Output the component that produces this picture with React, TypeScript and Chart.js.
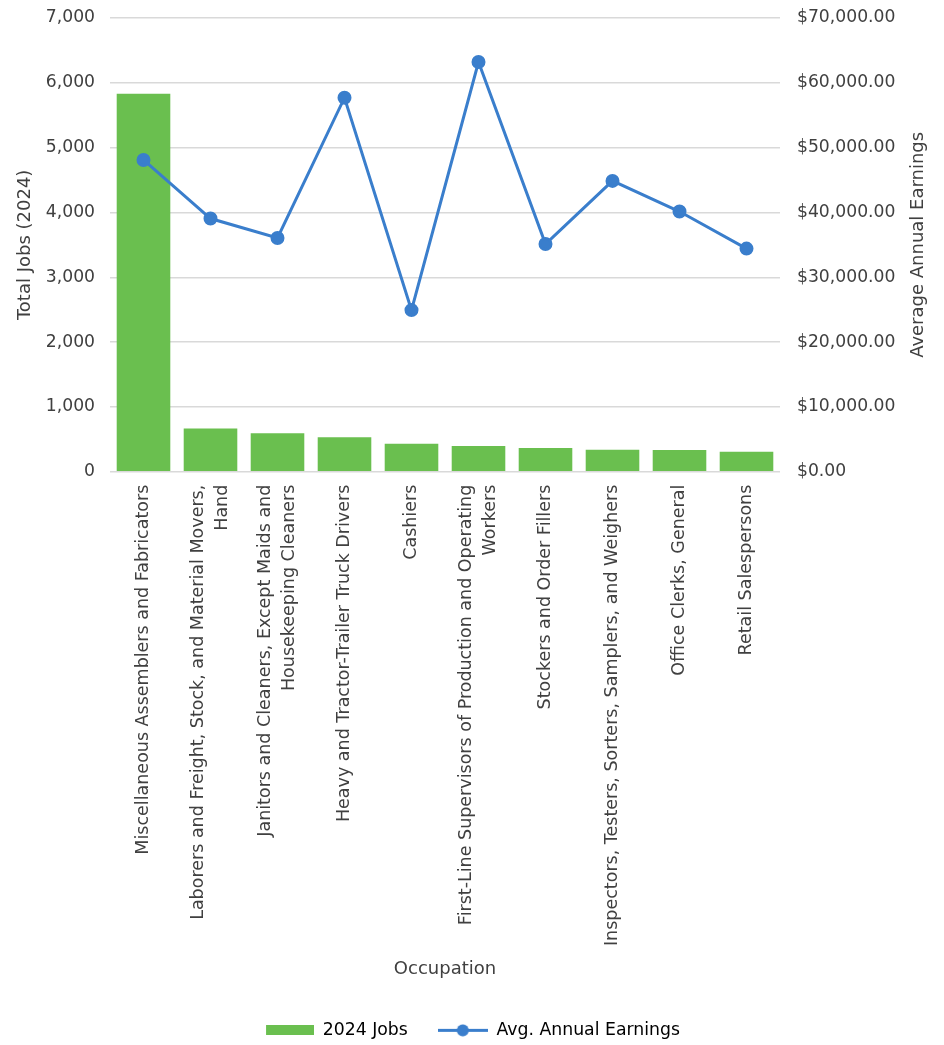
import React, { useEffect, useRef } from 'react';
import { Chart, registerables } from 'chart.js';

Chart.register(...registerables);

const categories: (string | string[])[] = [
  'Miscellaneous Assemblers and Fabricators',
  ['Laborers and Freight, Stock, and Material Movers,', 'Hand'],
  ['Janitors and Cleaners, Except Maids and', 'Housekeeping Cleaners'],
  'Heavy and Tractor-Trailer Truck Drivers',
  'Cashiers',
  ['First-Line Supervisors of Production and Operating', 'Workers'],
  'Stockers and Order Fillers',
  'Inspectors, Testers, Sorters, Samplers, and Weighers',
  'Office Clerks, General',
  'Retail Salespersons',
];

const jobs2024 = [5830, 665, 592, 530, 433, 397, 366, 340, 335, 309];
const avgAnnualEarnings = [48100, 39060, 36060, 57700, 24930, 63210, 35130, 44870, 40140, 34420];

const jobsAxis = { min: 0, max: 7000, step: 1000 };
const earningsAxis = { min: 0, max: 70000, step: 10000 };

const GREEN = '#6ABF4F';
const BLUE = '#3A7ECC';
const TEXT = '#404040';
const GRID = '#D9D9D9';
const FONT = '"DejaVu Sans", sans-serif';
const XTICK_SIZE = 17.5;
const YTICK_SIZE = 17.2;
const TITLE_SIZE = 18;
const LEGEND_SIZE = 17.3;

function makeBoxImg() {
  const c = document.createElement('canvas');
  c.width = 50;
  c.height = 10;
  const g = c.getContext('2d')!;
  g.fillStyle = GREEN;
  g.fillRect(2, 0, 48, 10);
  return c;
}

function makeLineImg() {
  const c = document.createElement('canvas');
  c.width = 50;
  c.height = 13;
  const g = c.getContext('2d')!;
  g.strokeStyle = BLUE;
  g.lineWidth = 3;
  g.beginPath();
  g.moveTo(0, 6.5);
  g.lineTo(50, 6.5);
  g.stroke();
  g.fillStyle = BLUE;
  g.beginPath();
  g.arc(25, 6.5, 6, 0, Math.PI * 2);
  g.fill();
  return c;
}

const centerMultilineLabels = {
  id: 'centerMultilineLabels',
  beforeDraw(chart: any) {
    const scale = chart.scales.x;
    const items = scale.getLabelItems(chart.chartArea);
    items.forEach((it: any) => {
      if (Array.isArray(it.label) && it.label.length > 1 && !it._centered) {
        it.options.translation[0] -= ((it.label.length - 1) * it.font.lineHeight) / 2;
        it._centered = true;
      }
    });
  },
};

const rightAxisTitle = {
  id: 'rightAxisTitle',
  afterDraw(chart: any) {
    const s = chart.scales.y1;
    const ctx = chart.ctx;
    ctx.save();
    ctx.translate(s.right - 26, (chart.chartArea.top + chart.chartArea.bottom) / 2);
    ctx.rotate(-Math.PI / 2);
    ctx.font = `${TITLE_SIZE}px ${FONT}`;
    ctx.fillStyle = TEXT;
    ctx.textAlign = 'center';
    ctx.textBaseline = 'middle';
    ctx.fillText('Average Annual Earnings', 0, 0);
    ctx.restore();
  },
};

export default function App() {
  const ref = useRef<HTMLCanvasElement>(null);

  useEffect(() => {
    const canvas = ref.current!;
    const boxImg = makeBoxImg();
    const lineImg = makeLineImg();
    const chart = new Chart(canvas, {
      type: 'bar',
      data: {
        labels: categories,
        datasets: [
          {
            type: 'bar',
            label: '2024 Jobs',
            data: jobs2024,
            yAxisID: 'y',
            backgroundColor: GREEN,
            categoryPercentage: 1,
            barPercentage: 0.8,
            order: 1,
          },
          {
            type: 'line',
            label: 'Avg. Annual Earnings',
            data: avgAnnualEarnings,
            yAxisID: 'y1',
            borderColor: BLUE,
            backgroundColor: BLUE,
            borderWidth: 3,
            pointRadius: 5.5,
            pointBackgroundColor: BLUE,
            pointBorderColor: BLUE,
            tension: 0,
            order: 0,
          },
        ],
      } as any,
      options: {
        responsive: false,
        animation: false,
        events: [],
        font: { family: FONT },
        layout: { padding: { top: 18, bottom: -4, left: 0, right: 0 } },
        plugins: {
          tooltip: { enabled: false },
          legend: {
            position: 'bottom',
            labels: {
              usePointStyle: true,
              pointStyleWidth: 50,
              padding: 30,
              color: '#262626',
              font: { family: FONT, size: LEGEND_SIZE },
              generateLabels: () =>
                [
                  { text: '2024 Jobs', pointStyle: boxImg, fillStyle: GREEN, strokeStyle: GREEN, lineWidth: 0, hidden: false, datasetIndex: 0 },
                  { text: 'Avg. Annual Earnings', pointStyle: lineImg, fillStyle: BLUE, strokeStyle: BLUE, lineWidth: 0, hidden: false, datasetIndex: 1 },
                ] as any,
            },
          },
        },
        scales: {
          x: {
            grid: { display: false, drawTicks: false },
            border: { display: false },
            ticks: {
              autoSkip: false,
              minRotation: 90,
              maxRotation: 90,
              padding: 13,
              color: TEXT,
              font: { family: FONT, size: XTICK_SIZE, lineHeight: 24 / XTICK_SIZE },
            },
            title: {
              display: true,
              text: 'Occupation',
              color: TEXT,
              font: { family: FONT, size: TITLE_SIZE },
              padding: { top: 0, bottom: 12 },
            },
            afterFit: (s: any) => {
              s.height = 520;
              s.paddingTop = 0;
              s.paddingBottom = 0;
            },
          },
          y: {
            position: 'left',
            min: jobsAxis.min,
            max: jobsAxis.max,
            ticks: {
              stepSize: jobsAxis.step,
              padding: 15,
              color: TEXT,
              font: { family: FONT, size: YTICK_SIZE },
              callback: (v: any) => Number(v).toLocaleString('en-US'),
            },
            grid: { color: GRID, lineWidth: 1.5, drawTicks: false },
            border: { display: false },
            title: {
              display: true,
              text: 'Total Jobs (2024)',
              color: TEXT,
              font: { family: FONT, size: TITLE_SIZE },
              padding: { top: 15, bottom: 0 },
            },
            afterFit: (s: any) => {
              s.width = 110;
              s.paddingTop = 0;
            },
          },
          y1: {
            position: 'right',
            min: earningsAxis.min,
            max: earningsAxis.max,
            ticks: {
              stepSize: earningsAxis.step,
              padding: 17,
              color: TEXT,
              font: { family: FONT, size: YTICK_SIZE },
              callback: (v: any) =>
                '$' + Number(v).toLocaleString('en-US', { minimumFractionDigits: 2, maximumFractionDigits: 2 }),
            },
            grid: { display: false, drawTicks: false },
            border: { display: false },
            afterFit: (s: any) => {
              s.width = 164;
              s.paddingTop = 0;
            },
          },
        },
      } as any,
      plugins: [centerMultilineLabels, rightAxisTitle],
    });
    return () => chart.destroy();
  }, []);

  return (
    <div style={{ position: 'absolute', left: 0, top: 0, width: 944, height: 1045 }}>
      <canvas ref={ref} width={944} height={1045} />
    </div>
  );
}
